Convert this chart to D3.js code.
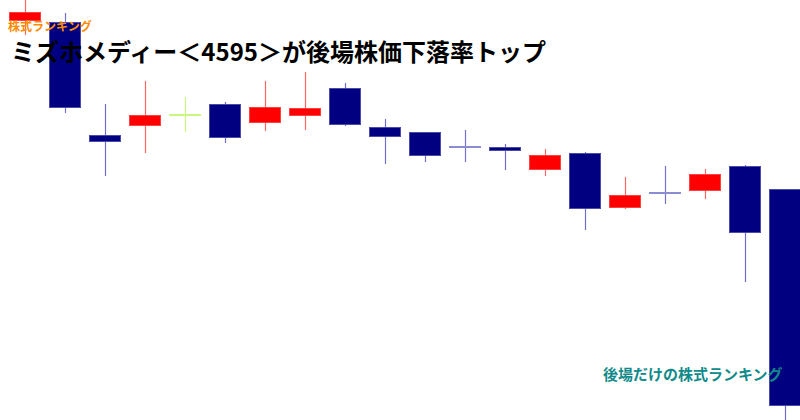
<!DOCTYPE html>
<html>
<head>
<meta charset="utf-8">
<script src="https://cdn.jsdelivr.net/npm/d3@7"></script>
<style>
  html, body { margin: 0; padding: 0; background: #fff; }
  svg { display: block; }
</style>
</head>
<body>
<div id="chart"></div>
<script>
// daily candles, oldest first
const days = ["1", "2", "3", "4", "5", "6", "7", "8", "9", "10",
              "11", "12", "13", "14", "15", "16", "17", "18", "19", "20"];
const opens  = [1679, 1678, 1565, 1574, 1585, 1596, 1577, 1584, 1612, 1573,
                1568, 1553, 1553, 1530, 1547, 1492, 1507, 1509, 1534, 1511];
const highs  = [1705, 1687, 1596, 1619, 1603, 1598, 1619, 1628, 1617, 1581,
                1568, 1570, 1556, 1551, 1548, 1523, 1534, 1531, 1535, 1511];
const lows   = [1665, 1587, 1524, 1547, 1568, 1557, 1569, 1570, 1574, 1536,
                1538, 1538, 1530, 1524, 1470, 1491, 1496, 1501, 1418, 1270];
const closes = [1688, 1592, 1558, 1585, 1585, 1562, 1593, 1592, 1575, 1563,
                1544, 1553, 1549, 1545, 1491, 1505, 1507, 1526, 1467, 1294];

const title = "ミズホメディー＜4595＞が後場株価下落率トップ";
const tag = "株式ランキング";
const footer = "後場だけの株式ランキング";

const width = 800;
const height = 420;

const candles = days.map((d, i) => ({
    day: d, open: opens[i], high: highs[i], low: lows[i], close: closes[i]
}));

const svg = d3.select('#chart').append('svg')
    .attr('width', width)
    .attr('height', height);

// no axes in the picture, the chart just fills the frame
const x = d3.scaleBand()
    .domain(days)
    .range([4.5, 804.5])
    .paddingInner(0.2)
    .paddingOuter(0.1);

const y = d3.scaleLinear()
    .domain([1280, 1700])
    .range([height, 0]);

const upColor = '#ff0000';
const downColor = '#000080';

function bodyColor(d, i) {
    if (d.open === d.close) return i === 4 ? '#c8f880' : '#8c8cd2';
    return d.close > d.open ? upColor : downColor;
}
function wickColor(d, i) {
    if (d.open === d.close) return i === 4 ? '#c8f880' : '#7272cc';
    return d.close > d.open ? '#ff6666' : '#7070cc';
}

const g = svg.append('g');

const candle = g.selectAll('g.candle')
    .data(candles)
    .join('g')
    .attr('class', 'candle');

// wick
candle.append('line')
    .attr('x1', d => Math.round(x(d.day) + x.bandwidth() / 2) + 0.5)
    .attr('x2', d => Math.round(x(d.day) + x.bandwidth() / 2) + 0.5)
    .attr('y1', d => y(d.high))
    .attr('y2', d => y(d.low))
    .attr('stroke', wickColor)
    .attr('stroke-width', 1.2);

// body, or a flat line for a doji
candle.each(function (d, i) {
    const sel = d3.select(this);
    const x0 = Math.round(x(d.day));
    if (d.open === d.close) {
        sel.append('line')
            .attr('x1', x0)
            .attr('x2', x0 + x.bandwidth())
            .attr('y1', Math.round(y(d.open)))
            .attr('y2', Math.round(y(d.open)))
            .attr('stroke', bodyColor(d, i))
            .attr('stroke-width', 2);
    } else {
        const top = y(Math.max(d.open, d.close));
        const bottom = y(Math.min(d.open, d.close));
        sel.append('rect')
            .attr('x', x0 + 0.5)
            .attr('y', Math.round(top) + 0.5)
            .attr('width', x.bandwidth() - 1)
            .attr('height', Math.max(1, Math.round(bottom - top) - 1))
            .attr('fill', bodyColor(d, i))
            .attr('stroke', d.close > d.open ? '#ff4040' : '#4a4aa8')
            .attr('stroke-width', 1);
    }
});

// texts
svg.append('text')
    .attr('x', 8)
    .attr('y', 31)
    .attr('fill', '#ff8c00')
    .style('font-family', '"Noto Sans CJK JP", sans-serif')
    .style('font-weight', 'bold')
    .style('font-size', '12px')
    .text(tag);

svg.append('text')
    .attr('x', 11)
    .attr('y', 61)
    .attr('fill', '#000')
    .style('font-family', '"Noto Sans CJK JP", sans-serif')
    .style('font-weight', 'bold')
    .style('font-size', '24px')
    .text(title);

svg.append('text')
    .attr('x', 603)
    .attr('y', 380)
    .attr('fill', '#118a8a')
    .style('font-family', '"Noto Sans CJK JP", sans-serif')
    .style('font-weight', 'bold')
    .style('font-size', '15px')
    .text(footer);
</script>
</body>
</html>
